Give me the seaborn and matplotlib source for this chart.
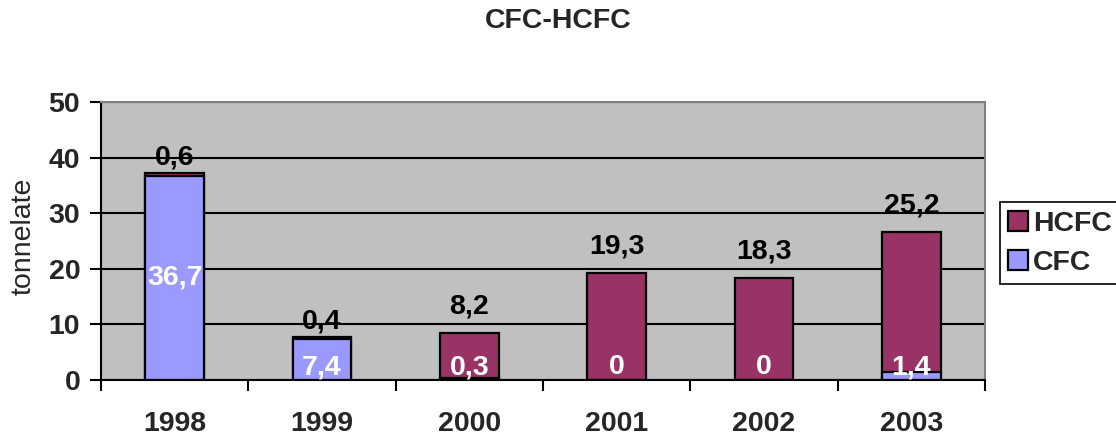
import matplotlib
matplotlib.use("Agg")
import matplotlib.pyplot as plt
import numpy as np
import pandas as pd
import seaborn as sns

# dati
anni = ["1998", "1999", "2000", "2001", "2002", "2003"]
cfc = [36.7, 7.4, 0.3, 0.0, 0.0, 1.4]
hcfc = [0.6, 0.4, 8.2, 19.3, 18.3, 25.2]

df = pd.DataFrame({"anno": anni, "CFC": cfc, "HCFC": hcfc})
df["totale"] = df["CFC"] + df["HCFC"]

sns.set_style("white")
plt.rcParams["font.family"] = ["Liberation Sans", "DejaVu Sans"]

col_hcfc = "#993366"
col_cfc = "#9999FF"
fs = 20.5

fig, ax = plt.subplots(figsize=(11.16, 4.36), dpi=100)
fig.subplots_adjust(left=0.0905, right=0.8826, bottom=0.1284, top=0.766)

# barre impilate: totale (HCFC) sotto, CFC sopra in sovrapposizione
sns.barplot(data=df, x="anno", y="totale", color=col_hcfc, width=0.4,
            edgecolor="black", linewidth=1.6, saturation=1, label="HCFC", ax=ax)
sns.barplot(data=df, x="anno", y="CFC", color=col_cfc, width=0.4,
            edgecolor="black", linewidth=1.6, saturation=1, label="CFC", ax=ax)

ax.set_facecolor("#C0C0C0")
ax.set_ylim(0, 50)
ax.set_xlim(-0.5, len(anni) - 0.5)
ax.set_yticks(np.arange(0, 51, 10))
ax.grid(axis="y", color="black", linewidth=1.5)
ax.set_axisbelow(True)

for lato in ["top", "right"]:
    ax.spines[lato].set_color("#808080")
    ax.spines[lato].set_linewidth(1.5)
for lato in ["left", "bottom"]:
    ax.spines[lato].set_color("black")
    ax.spines[lato].set_linewidth(1.5)

# tacche ai bordi delle categorie
ax.set_xticks(np.arange(-0.5, len(anni), 1), minor=True)
ax.tick_params(axis="x", which="minor", length=8, width=1.5, color="black", direction="out", bottom=True)
ax.tick_params(axis="x", which="major", length=0, pad=22, labelsize=fs)
ax.tick_params(axis="y", which="major", length=8, width=1.5, color="black", direction="out", left=True,
               pad=7, labelsize=fs)
for t in ax.get_xticklabels() + ax.get_yticklabels():
    t.set_fontweight("bold")

ax.set_xlabel("")
ax.set_ylabel("tonnelate", fontsize=fs)
ax.yaxis.set_label_coords(-0.073, 0.518)

# etichette dei valori
def fmt(v):
    s = f"{v:.1f}".replace(".", ",")
    return "0" if v == 0 else s

for i, r in df.iterrows():
    y_cfc = r["CFC"] / 2 if r["CFC"] > 10 else 2.3
    ax.text(i, y_cfc, fmt(r["CFC"]), ha="center", va="center", color="white",
            fontsize=fs, fontweight="bold")
    off = 11 if r["HCFC"] < 1 else 19
    ax.annotate(fmt(r["HCFC"]), (i, r["totale"]), xytext=(0, off), textcoords="offset points",
                ha="center", va="center", color="black", fontsize=fs, fontweight="bold")

leg = ax.get_legend()
if leg is not None:
    leg.remove()
handles, labels = ax.get_legend_handles_labels()
legenda = fig.legend(handles, labels, loc="upper left", bbox_to_anchor=(0.896, 0.536),
                     frameon=True, fancybox=False, edgecolor="black", framealpha=1,
                     handlelength=0.7, handleheight=0.7, handletextpad=0.15,
                     borderpad=0.3, labelspacing=0.45, borderaxespad=0,
                     prop={"size": fs, "weight": "bold"})
legenda.get_frame().set_linewidth(1.2)

fig.suptitle("CFC-HCFC", x=0.5, y=0.952, va="center", fontsize=fs, fontweight="bold")

fig.savefig("out.png", dpi=100)
